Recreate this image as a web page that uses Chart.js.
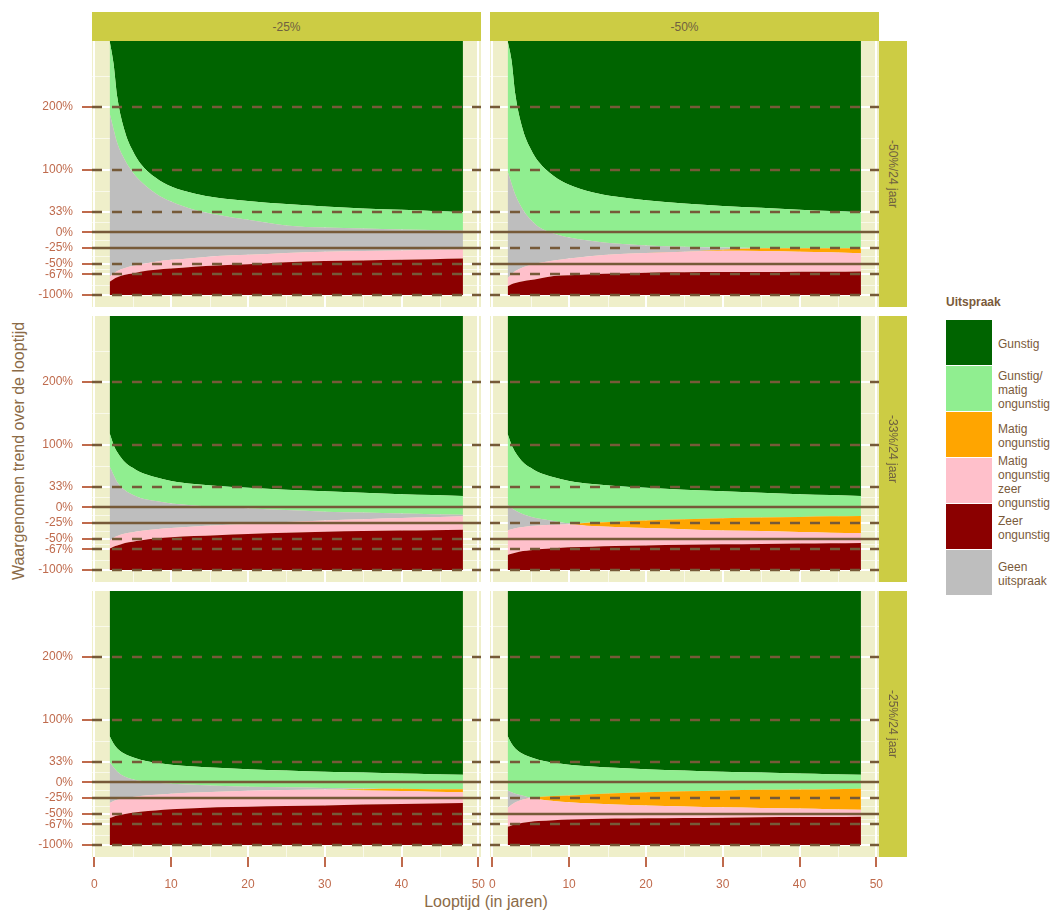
<!DOCTYPE html>
<html lang="nl">
<head>
<meta charset="UTF-8">
<title>Uitspraak per looptijd</title>
<script src="https://cdn.jsdelivr.net/npm/chart.js"></script>
<style>
    body {
        margin: 0;
        background: #fff;
        font-family: "Liberation Sans", Arial, sans-serif;
    }
    #wrap {
        position: relative;
        width: 1051px;
        height: 911px;
        overflow: hidden;
    }
    #wrap canvas, .strip, .title, #legend {
        position: absolute;
    }
    .strip {
        background: #CCCC44;
        color: #6F6140;
        font-size: 12px;
        display: flex;
        align-items: center;
        justify-content: center;
        white-space: nowrap;
    }
    .strip.side span {
        writing-mode: vertical-rl;
    }
    .title {
        color: #8B6B47;
        font-size: 16px;
        white-space: nowrap;
        transform: translate(-50%, -50%);
    }
    #ytitle {
        transform: translate(-50%, -50%) rotate(-90deg);
    }
    #legend {
        left: 946px;
        top: 295px;
        color: #7A5A3A;
        font-size: 12px;
    }
    #legend .head {
        font-weight: bold;
        height: 24px;
    }
    #legend .row {
        display: flex;
        align-items: center;
        height: 46px;
    }
    #legend .key {
        width: 46px;
        height: 45px;
        margin-right: 6px;
    }
    #legend .txt {
        line-height: 14px;
        padding-top: 3px;
    }
</style>
</head>
<body>
<div id="wrap">
    <div class="title" id="ytitle" style="left:19px; top:451px;">Waargenomen trend over de looptijd</div>
    <div class="title" style="left:486px; top:902px;">Looptijd (in jaren)</div>
    <div id="legend"></div>
</div>

<script>
    // x values (looptijd in jaren) at which the class boundaries were read
    const looptijd = [2, 2.5, 3, 4, 5, 6, 8, 10, 13, 16, 20, 25, 30, 35, 40, 44, 48];
    const xTicks = [0, 10, 20, 30, 40, 50];
    const xMinor = [5, 15, 25, 35, 45];
    const yTicks = [-100, -67, -50, -25, 0, 33, 100, 200];
    const yMinor = [-83.5, -58.5, -37.5, -12.5, 16.5, 66.5, 150, 250];

    const colLabels = ['-25%', '-50%'];
    const colThreshold = [-25, -50];
    const rowLabels = ['-50%/24 jaar', '-33%/24 jaar', '-25%/24 jaar'];

    const categories = ['Gunstig', 'Gunstig/\nmatig\nongunstig', 'Matig\nongunstig',
        'Matig\nongunstig\nzeer\nongunstig', 'Zeer\nongunstig', 'Geen\nuitspraak'];

    // upper boundary (in %) of each band, per panel
    // row 1: -50%/24 jaar
    const r1c1Zeer = [-79, -75, -72, -68, -66, -63, -60, -58, -55, -53, -51, -48, -46, -45, -44, -43, -42];
    const r1c1MatigZeer = [-71, -66, -62, -57, -54, -51, -47, -44, -41, -38, -36, -33, -31, -30, -29, -28, -27];
    const r1c1Matig = [-71, -66, -62, -57, -54, -51, -47, -44, -41, -38, -36, -33, -31, -30, -29, -28, -27];
    const r1c1Geen = [190, 165, 142, 115, 96, 82, 62, 49, 36, 28, 20, 11, 7.5, 6, 4.5, 3.5, 3];
    const r1c1GunstigMatig = [305.4, 270, 215, 160, 130, 110, 87, 73, 62, 55, 50, 45, 41, 38, 36, 34, 32];

    const r1c2Zeer = [-86, -83, -81, -78, -76, -74, -70, -68.5, -67, -66, -64.5, -64, -63.5, -63.5, -63, -63, -62.5];
    const r1c2MatigZeer = [-73, -67, -62, -56, -52, -49, -45, -42, -38, -35, -33, -31, -29.5, -30, -31, -32, -33.5];
    const r1c2Matig = [-73, -67, -62, -56, -52, -49, -45, -42, -38, -35, -33, -31, -28, -25.5, -25.5, -25.5, -25.5];
    const r1c2Geen = [97, 78, 60, 36, 20, 9, -2, -8.5, -14, -18, -21, -23, -24.5, -25, -25.5, -25.5, -25.5];
    const r1c2GunstigMatig = [305.4, 275, 220, 163, 133, 113, 90, 76, 64, 57, 51, 46, 42, 39, 36, 34, 32];

    // row 2: -33%/24 jaar
    const r2c1Zeer = [-66, -63, -61, -57, -55, -53, -50, -48, -46, -44.5, -42.5, -40.5, -39, -38, -37, -36.5, -36];
    const r2c1MatigZeer = [-53, -49, -46, -42, -40, -38, -35, -33, -30.5, -28.5, -26.5, -23.5, -21, -19, -17, -16, -14.5];
    const r2c1Matig = [-53, -49, -46, -42, -40, -38, -35, -33, -30.5, -28.5, -26.5, -23.5, -21, -19, -17, -16, -14.5];
    const r2c1Geen = [65, 52, 40, 27, 20, 15, 10, 6, 3, 1, -1.5, -4.5, -7, -8.5, -10, -11, -12];
    const r2c1GunstigMatig = [118, 100, 88, 72, 63, 56, 48, 42, 37, 34, 31, 28, 25.5, 23, 21, 19.5, 18];

    const r2c2Zeer = [-76, -74, -72.5, -70, -68.5, -67, -65.5, -64, -63, -62, -61, -60, -59, -58.5, -58, -57.5, -57];
    const r2c2MatigZeer = [-37, -35, -33.5, -31.5, -30, -29, -28, -27, -30, -31.5, -33, -35, -37, -38, -39.5, -40.5, -41];
    const r2c2Matig = [-37, -35, -33.5, -31.5, -30, -29, -28, -27, -24.5, -23, -21, -19, -17.5, -16.5, -15.5, -14.5, -14];
    const r2c2Geen = [4, -1, -5, -11, -15, -18, -22, -25.5, -24.5, -23, -21, -19, -17.5, -16.5, -15.5, -14.5, -14];
    const r2c2GunstigMatig = [117, 100, 88, 72, 63, 56, 48, 42, 37, 34, 31, 28, 25.5, 23, 21, 19.5, 18];

    // row 3: -25%/24 jaar
    const r3c1Zeer = [-57, -55, -53, -50.5, -48.5, -47, -45, -43, -41.5, -40, -39, -38, -37, -35.5, -34.5, -34, -33];
    const r3c1MatigZeer = [-33, -30, -28, -25, -23.5, -22, -20, -18.5, -16.5, -15, -13.5, -12.5, -11.5, -13, -14, -15, -16];
    const r3c1Matig = [-33, -30, -28, -25, -23.5, -22, -20, -18.5, -16.5, -15, -13.5, -12.5, -11.5, -11, -10.5, -11, -11];
    const r3c1Geen = [32, 24, 17, 9, 5, 2.5, -0.5, -2.5, -4, -5.5, -7, -8, -9, -10, -10.5, -11, -11];
    const r3c1GunstigMatig = [74, 62, 54, 45, 40, 36, 31, 28, 25, 23, 21, 19, 17, 15.5, 14, 13, 12];

    const r3c2Zeer = [-71, -69, -67, -64.5, -63, -62, -60.5, -59.5, -58.5, -58, -57.5, -57, -56.5, -56, -55.5, -55.5, -55];
    const r3c2MatigZeer = [-41, -36, -32, -27.5, -25, -27, -30, -32, -34, -35.5, -37, -38.5, -40, -41, -42, -43, -44];
    const r3c2Matig = [-41, -36, -32, -27.5, -25, -23.5, -22, -21, -19, -17.5, -16, -14.5, -13, -12, -11.5, -11, -10.5];
    const r3c2Geen = [-13, -16, -18.5, -21.5, -24, -23.5, -22, -21, -19, -17.5, -16, -14.5, -13, -12, -11.5, -11, -10.5];
    const r3c2GunstigMatig = [74, 62, 54, 45, 40, 36, 31, 28, 25, 23, 21, 19, 17, 15.5, 14, 13, 12];

    const panels = [
        [[r1c1Zeer, r1c1MatigZeer, r1c1Matig, r1c1Geen, r1c1GunstigMatig],
         [r1c2Zeer, r1c2MatigZeer, r1c2Matig, r1c2Geen, r1c2GunstigMatig]],
        [[r2c1Zeer, r2c1MatigZeer, r2c1Matig, r2c1Geen, r2c1GunstigMatig],
         [r2c2Zeer, r2c2MatigZeer, r2c2Matig, r2c2Geen, r2c2GunstigMatig]],
        [[r3c1Zeer, r3c1MatigZeer, r3c1Matig, r3c1Geen, r3c1GunstigMatig],
         [r3c2Zeer, r3c2MatigZeer, r3c2Matig, r3c2Geen, r3c2GunstigMatig]]
    ];

    // colours in legend order
    const bandColors = ['#006400', '#90EE90', '#FFA500', '#FFC0CB', '#8B0000', '#BEBEBE'];

    // layout of the facet grid
    const colLeft = [92, 490];
    const rowTop = [41, 316, 591];
    const panelW = 389, panelH = 266;
    const tickColor = '#BF6A4C';
    const lineColor = '#765A38';

    const wrap = document.getElementById('wrap');

    const panelDecor = {
        id: 'panelDecor',
        beforeDraw(chart) {
            const {ctx, chartArea: a, scales} = chart;
            ctx.save();
            ctx.fillStyle = '#EFEFCA';
            ctx.fillRect(a.left, a.top, a.width, a.height);
            ctx.strokeStyle = 'rgba(255,255,255,0.6)';
            ctx.lineWidth = 1;
            ctx.beginPath();
            xMinor.forEach(v => {
                const px = Math.round(scales.x.getPixelForValue(v)) + 0.5;
                ctx.moveTo(px, a.top); ctx.lineTo(px, a.bottom);
            });
            yMinor.forEach(v => {
                const py = Math.round(scales.y.getPixelForValue(v)) + 0.5;
                if (py < a.top || py > a.bottom) return;
                ctx.moveTo(a.left, py); ctx.lineTo(a.right, py);
            });
            ctx.stroke();
            ctx.restore();
        },
        afterDatasetsDraw(chart, args, opts) {
            const {ctx, chartArea: a, scales} = chart;
            ctx.save();
            ctx.strokeStyle = lineColor;
            ctx.lineWidth = 2.5;
            yTicks.forEach(v => {
                const py = Math.round(scales.y.getPixelForValue(v));
                ctx.setLineDash(opts.solid.includes(v) ? [] : [10, 10]);
                ctx.beginPath();
                ctx.moveTo(a.left, py);
                ctx.lineTo(a.right, py);
                ctx.stroke();
            });
            ctx.restore();
        }
    };

    function toPoints(arr) {
        return looptijd.map((x, i) => ({x: x, y: arr[i]}));
    }

    function makePanel(r, c) {
        const [zeer, matigZeer, matig, geen, gunstigMatig] = panels[r][c];
        const yAxisW = c === 0 ? 62 : 0;
        const xAxisH = r === 2 ? 40 : 0;
        const pad = {left: c === 0 ? 0 : 14, right: 16, top: 20, bottom: r === 2 ? 0 : 20};

        const canvas = document.createElement('canvas');
        const w = pad.left + yAxisW + panelW + pad.right;
        const h = pad.top + panelH + xAxisH + pad.bottom;
        canvas.width = w;
        canvas.height = h;
        canvas.style.width = w + 'px';
        canvas.style.height = h + 'px';
        canvas.style.left = (colLeft[c] - yAxisW - pad.left) + 'px';
        canvas.style.top = (rowTop[r] - pad.top) + 'px';
        wrap.appendChild(canvas);

        const band = {borderWidth: 0, pointRadius: 0, cubicInterpolationMode: 'monotone'};

        new Chart(canvas, {
            type: 'line',
            data: {
                datasets: [
                    {...band, label: 'Zeer ongunstig', data: toPoints(zeer), fill: {value: -100}, backgroundColor: bandColors[4]},
                    {...band, label: 'Matig ongunstig zeer ongunstig', data: toPoints(matigZeer), fill: '-1', backgroundColor: bandColors[3]},
                    {...band, label: 'Matig ongunstig', data: toPoints(matig), fill: '-1', backgroundColor: bandColors[2]},
                    {...band, label: 'Geen uitspraak', data: toPoints(geen), fill: '-1', backgroundColor: bandColors[5]},
                    {...band, label: 'Gunstig/matig ongunstig', data: toPoints(gunstigMatig), fill: '-1', backgroundColor: bandColors[1]},
                    {...band, label: 'Gunstig', data: toPoints(gunstigMatig), fill: 'end', backgroundColor: bandColors[0]}
                ]
            },
            options: {
                responsive: false,
                animation: false,
                devicePixelRatio: 1,
                layout: {padding: pad},
                plugins: {
                    legend: {display: false},
                    tooltip: {enabled: false},
                    panelDecor: {solid: [0, colThreshold[c]]}
                },
                scales: {
                    x: {
                        type: 'linear',
                        min: -0.3,
                        max: 50.35,
                        afterBuildTicks: s => { s.ticks = xTicks.map(v => ({value: v})); },
                        afterFit: s => { s.height = xAxisH; },
                        border: {display: false},
                        grid: {
                            color: '#FFFFFF', lineWidth: 2,
                            drawTicks: r === 2, tickLength: 10, tickColor: tickColor, tickWidth: 2
                        },
                        ticks: {
                            display: r === 2, color: tickColor, padding: 10, maxRotation: 0, autoSkip: false,
                            font: {family: '"Liberation Sans", Arial, sans-serif', size: 12}
                        }
                    },
                    y: {
                        type: 'linear',
                        min: -119.3,
                        max: 305.4,
                        afterBuildTicks: s => { s.ticks = yTicks.map(v => ({value: v})); },
                        afterFit: s => { s.width = yAxisW; },
                        border: {display: false},
                        grid: {
                            color: '#FFFFFF', lineWidth: 2,
                            drawTicks: c === 0, tickLength: 10, tickColor: tickColor, tickWidth: 2
                        },
                        ticks: {
                            display: c === 0, color: tickColor, padding: 9, autoSkip: false,
                            callback: v => v + '%',
                            font: {family: '"Liberation Sans", Arial, sans-serif', size: 12}
                        }
                    }
                }
            },
            plugins: [panelDecor]
        });
    }

    for (let r = 0; r < 3; r++) {
        for (let c = 0; c < 2; c++) makePanel(r, c);
    }

    // facet strips
    colLabels.forEach((lab, c) => {
        const d = document.createElement('div');
        d.className = 'strip';
        d.style.left = colLeft[c] + 'px';
        d.style.top = '12px';
        d.style.width = panelW + 'px';
        d.style.height = (rowTop[0] - 12) + 'px';
        d.textContent = lab;
        wrap.appendChild(d);
    });
    rowLabels.forEach((lab, r) => {
        const d = document.createElement('div');
        d.className = 'strip side';
        d.style.left = (colLeft[1] + panelW) + 'px';
        d.style.top = rowTop[r] + 'px';
        d.style.width = '28px';
        d.style.height = panelH + 'px';
        const s = document.createElement('span');
        s.textContent = lab;
        d.appendChild(s);
        wrap.appendChild(d);
    });

    // legend
    const legend = document.getElementById('legend');
    let html = '<div class="head">Uitspraak</div>';
    categories.forEach((cat, i) => {
        html += `<div class="row"><div class="key" style="background:${bandColors[i]}"></div>` +
            `<div class="txt">${cat.split('\n').join('<br>')}</div></div>`;
    });
    legend.innerHTML = html;
</script>
</body>
</html>
